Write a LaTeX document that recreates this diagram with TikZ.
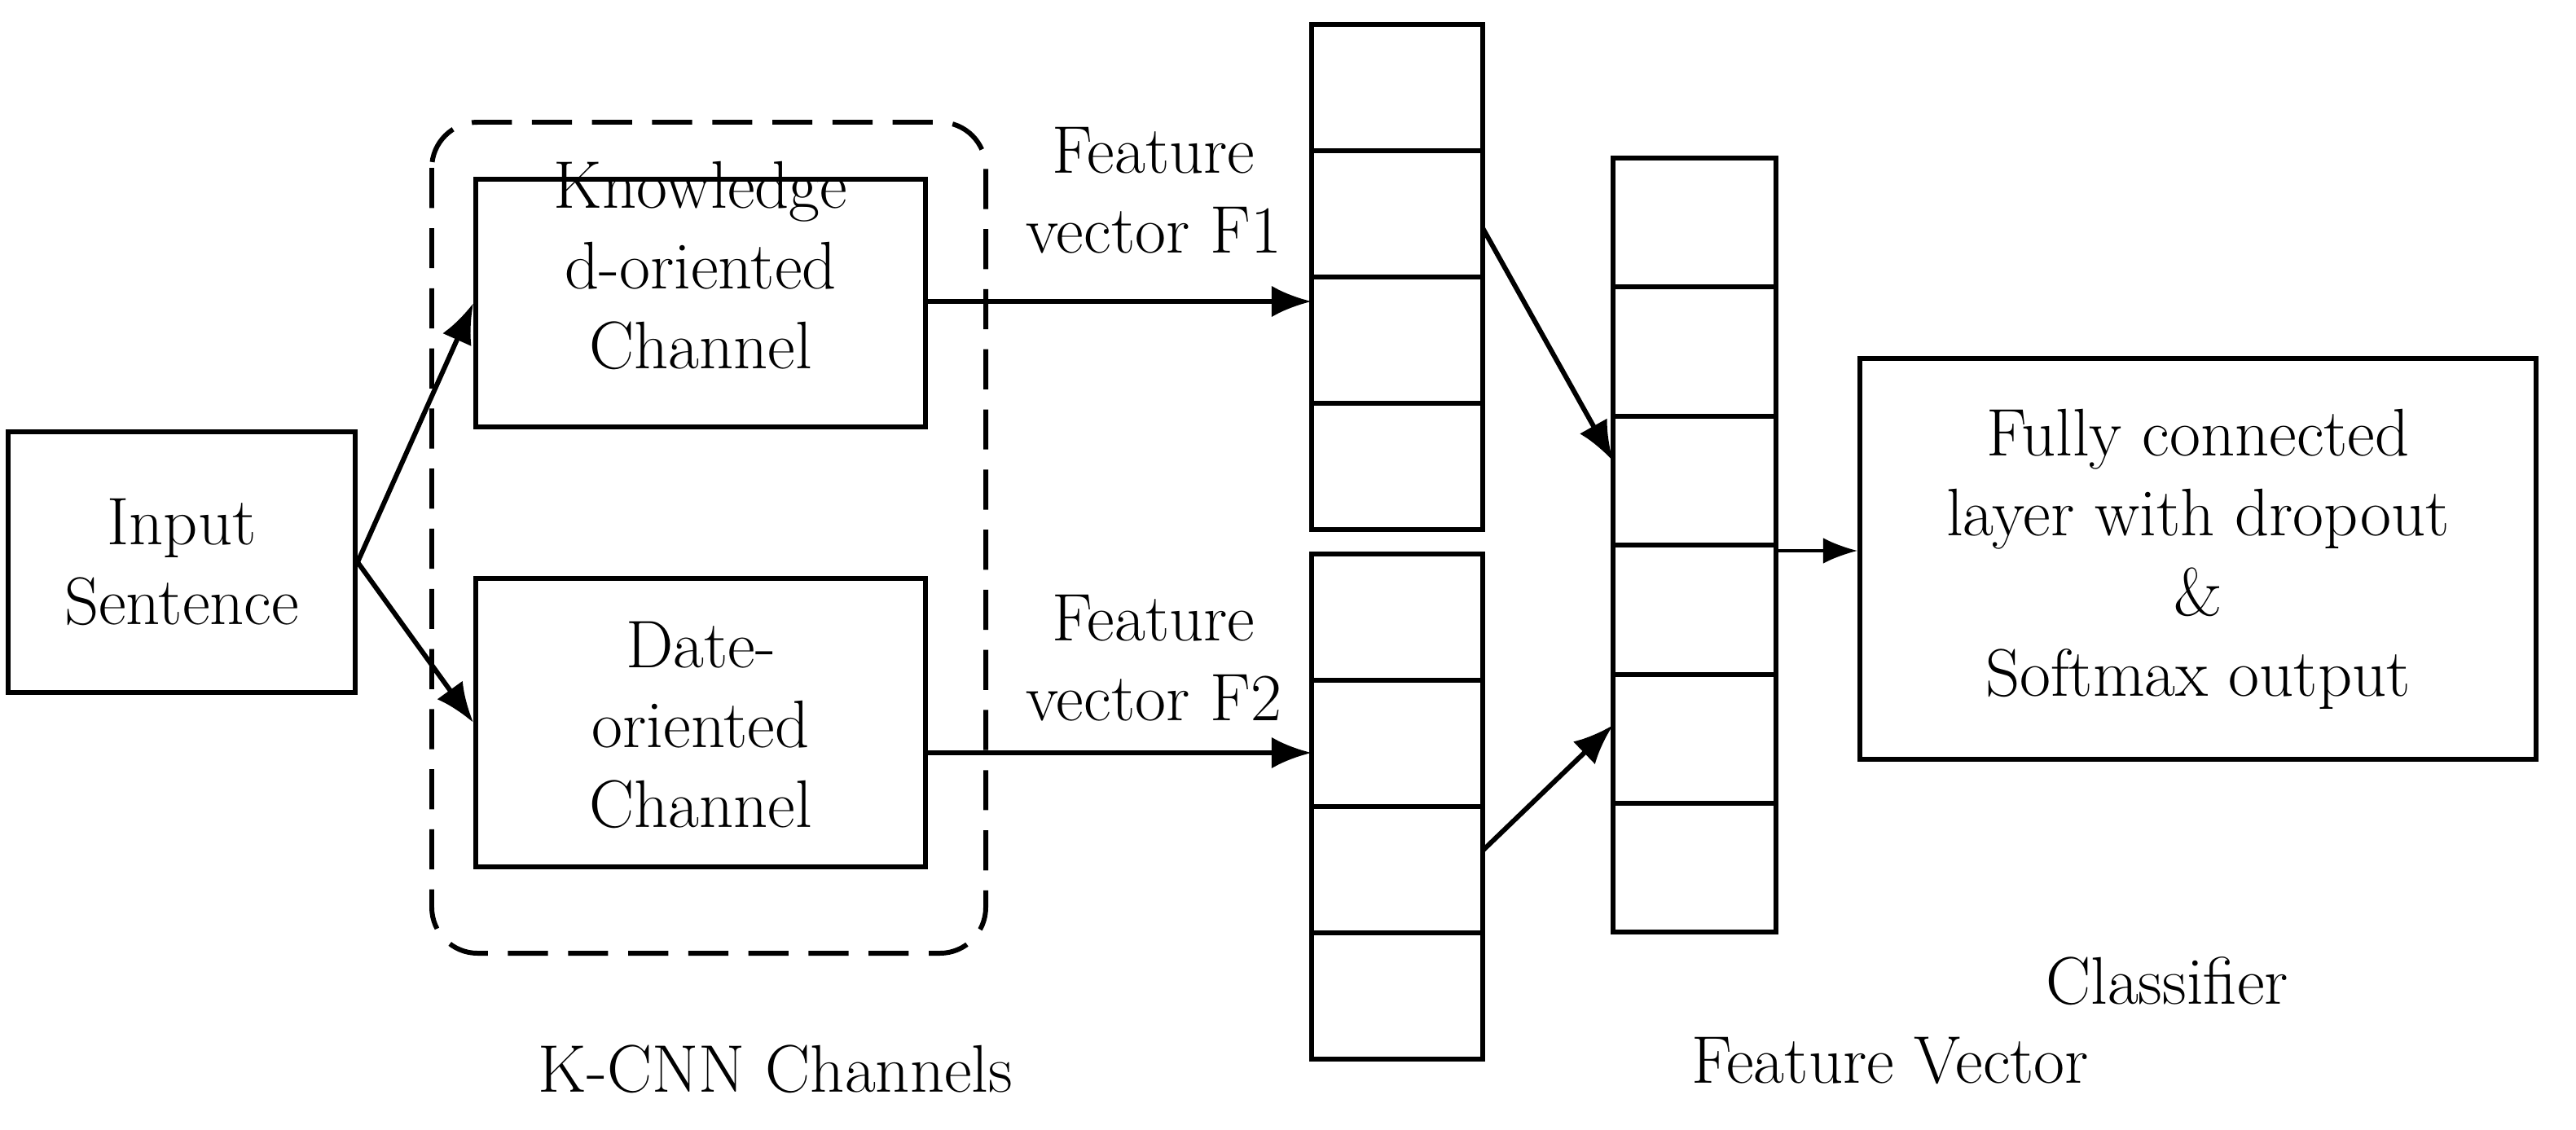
\documentclass[tikz,border=0pt]{standalone}
\usetikzlibrary{arrows.meta}
\begin{document}
\begin{tikzpicture}[x=0.02cm,y=-0.02cm,
  box/.style={draw,line width=1.7pt,inner sep=0pt},
  arr/.style={line width=1.7pt,-{Latex[length=14pt,width=11pt]}},
  txt/.style={align=center,font=\fontsize{23.5}{28}\selectfont},
  cell/.style={draw,line width=1.7pt}]
\useasboundingbox (0,0) rectangle (1581,693);
\node[box,minimum width=4.26cm,minimum height=3.2cm,txt] (in) at (111.5,345) {Input\\Sentence};
\draw[line width=1.7pt,dashed,dash pattern=on 14pt off 7pt,rounded corners=16pt] (265,75) rectangle (605,585);
\node[box,minimum width=5.52cm,minimum height=3.04cm] (kb) at (430,186) {};
\node[txt] (kt) at (430,163) {Knowledge\\d-oriented\\Channel};
\node[box,minimum width=5.52cm,minimum height=3.54cm] (db) at (430,443.5) {};
\node[txt] (dt) at (430,445) {Date-\\oriented\\Channel};
\coordinate (s1a) at (805,185);
\coordinate (s2a) at (805,462);
\draw[arr] (in.east) -- (kb.west);
\draw[arr] (in.east) -- (db.west);
\draw[arr] (kb.east |- s1a) -- (s1a);
\draw[arr] (db.east |- s2a) -- (s2a);
\node[txt] (f1) at (708,117) {Feature\\vector F1};
\node[txt] (f2) at (708,404) {Feature\\vector F2};
\foreach \i in {0,...,3}{\draw[cell] (805,{15+\i*77.5}) rectangle (910,{15+(\i+1)*77.5});}
\foreach \i in {0,...,3}{\draw[cell] (805,{340+\i*77.5}) rectangle (910,{340+(\i+1)*77.5});}
\foreach \i in {0,...,5}{\draw[cell] (990,{97+\i*79.2}) rectangle (1090,{97+(\i+1)*79.2});}
\coordinate (o1) at (910,140);
\coordinate (t1) at (990,283);
\coordinate (o2) at (910,522);
\coordinate (t2) at (990,445);
\coordinate (o3) at (1090,338);
\draw[arr] (o1) -- (t1);
\draw[arr] (o2) -- (t2);
\node[box,minimum width=8.3cm,minimum height=4.92cm,txt,anchor=west] (cl) at (1140,343) {Fully connected\\layer with dropout\\\&\\Softmax output};
\draw[line width=0.9pt,-{Latex[length=12pt,width=9pt]}] (o3) -- (o3 -| cl.west);
\node[txt] (clt) at (1330,602) {Classifier};
\node[txt] (kc) at (476,656) {K-CNN Channels};
\node[txt] (fv) at (1160,651) {Feature Vector};
\end{tikzpicture}
\end{document}
